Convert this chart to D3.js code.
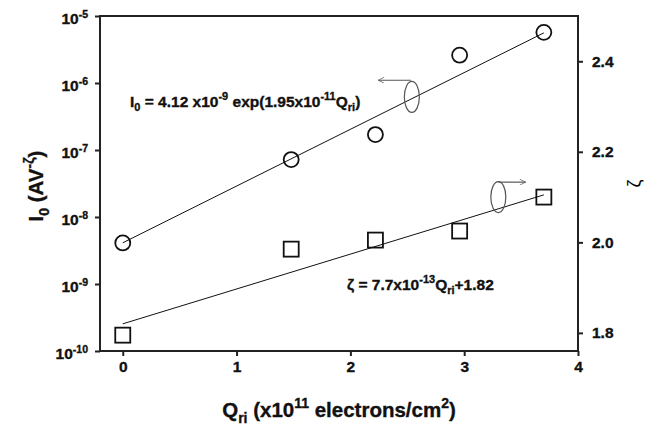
<!DOCTYPE html>
<html>
<head>
<meta charset="utf-8">
<script src="https://cdn.jsdelivr.net/npm/d3@7"></script>
<style>
  body { margin: 0; background: #fff; }
  text { font-family: "Liberation Sans", Arial, sans-serif; }
  .heavy { stroke: #111; stroke-width: 0.35px; }
</style>
</head>
<body>
<div id="chart"></div>
<script>
// Data
const qri  = [0, 1.48, 2.22, 2.96, 3.70];            // x10^11 electrons/cm^2
const i0   = [4.1e-9, 7.2e-8, 1.7e-7, 2.6e-6, 5.7e-6]; // A V^-zeta
const zeta = [1.795, 1.985, 2.005, 2.025, 2.10];

// Fit lines (from the equations printed on the chart)
const fitRange = [0, 3.70];
const i0Fit   = { a: 4.12e-9, b: 1.95 };   // I0 = a exp(b Q)
const zetaFit = { m: 0.077, c: 1.82 };     // zeta = m Q + c

const xTicks = [0, 1, 2, 3, 4];
const leftTicks = [1e-10, 1e-9, 1e-8, 1e-7, 1e-6, 1e-5];
const rightTicks = [1.8, 2.0, 2.2, 2.4];

// Dimensions
const margin = { top: 16, right: 72, bottom: 74, left: 100 };
const width  = 650 - margin.left - margin.right;
const height = 425 - margin.top - margin.bottom;

const svg = d3.select("#chart")
  .append("svg")
  .attr("width", 650)
  .attr("height", 425)
  .append("g")
  .attr("transform", `translate(${margin.left},${margin.top})`);

const x = d3.scaleLinear().domain([-0.2, 4]).range([0, width]);
const yL = d3.scaleLog().domain([1e-10, 1e-5]).range([height, 0]);
const yR = d3.scaleLinear().domain([1.76, 2.5]).range([height, 0]);

const axisColor = "#222";

// Frame (top border)
svg.append("line")
  .attr("x1", 0).attr("x2", width).attr("y1", 0).attr("y2", 0)
  .attr("stroke", axisColor).attr("stroke-width", 2);

// Axes
const xAxis = svg.append("g")
  .attr("transform", `translate(0,${height})`)
  .call(d3.axisBottom(x).tickValues(xTicks).tickFormat(d3.format("d")).tickSizeOuter(0).tickSize(5).tickPadding(5));

const leftAxis = svg.append("g")
  .call(d3.axisLeft(yL).tickValues(leftTicks).tickSizeOuter(0).tickSize(5).tickPadding(7));

const rightAxis = svg.append("g")
  .attr("transform", `translate(${width},0)`)
  .call(d3.axisRight(yR).tickValues(rightTicks).tickFormat(d3.format(".1f")).tickSizeOuter(0).tickSize(5).tickPadding(9));

[xAxis, leftAxis, rightAxis].forEach(g => {
  g.attr("font-family", null).attr("font-size", null);
  g.select(".domain").attr("stroke", axisColor).attr("stroke-width", 2);
  g.selectAll(".tick line").attr("stroke", axisColor).attr("stroke-width", 2);
  g.selectAll(".tick text")
    .attr("class", "heavy")
    .attr("fill", "#111")
    .style("font-size", "15.5px")
    .style("font-weight", "bold");
});

leftAxis.selectAll(".tick text")
  .text(null)
  .attr("dy", "0.5em")
  .each(function(d) {
    const t = d3.select(this);
    t.append("tspan").text("10");
    t.append("tspan")
      .attr("dy", -6)
      .style("font-size", "10.5px")
      .text(Math.round(Math.log10(d)));
  });

// extend domain lines to meet corners
xAxis.select(".domain").attr("d", `M-1,0H${width + 1}`);
leftAxis.select(".domain").attr("d", `M0,${height + 1}V-1`);
rightAxis.select(".domain").attr("d", `M0,${height + 1}V-1`);

// Fit lines
const fitI0 = fitRange.map(q => [q, i0Fit.a * Math.exp(i0Fit.b * q)]);
const fitZ  = fitRange.map(q => [q, zetaFit.m * q + zetaFit.c]);

svg.append("path")
  .datum(fitI0)
  .attr("fill", "none")
  .attr("stroke", "#111")
  .attr("stroke-width", 1)
  .attr("d", d3.line().x(d => x(d[0])).y(d => yL(d[1])));

svg.append("path")
  .datum(fitZ)
  .attr("fill", "none")
  .attr("stroke", "#111")
  .attr("stroke-width", 1)
  .attr("d", d3.line().x(d => x(d[0])).y(d => yR(d[1])));

// Markers
svg.selectAll("circle.i0")
  .data(qri.map((q, i) => [q, i0[i]]))
  .join("circle")
  .attr("class", "i0")
  .attr("cx", d => x(d[0]))
  .attr("cy", d => yL(d[1]))
  .attr("r", 7.5)
  .attr("fill", "none")
  .attr("stroke", "#111")
  .attr("stroke-width", 1.8);

const sq = 15;
svg.selectAll("rect.zeta")
  .data(qri.map((q, i) => [q, zeta[i]]))
  .join("rect")
  .attr("class", "zeta")
  .attr("x", d => x(d[0]) - sq / 2)
  .attr("y", d => yR(d[1]) - sq / 2)
  .attr("width", sq)
  .attr("height", sq)
  .attr("fill", "none")
  .attr("stroke", "#111")
  .attr("stroke-width", 1.8);

// Arrow marker
const defs = svg.append("defs");
defs.append("marker")
  .attr("id", "arrow")
  .attr("viewBox", "0 0 10 10")
  .attr("refX", 10).attr("refY", 5)
  .attr("markerWidth", 11).attr("markerHeight", 6)
  .attr("markerUnits", "userSpaceOnUse")
  .attr("orient", "auto")
  .append("path")
  .attr("d", "M0,0L10,5L0,10")
  .attr("fill", "none")
  .attr("stroke", "#555")
  .attr("stroke-width", 1.2);

// Annotation ellipses + arrows (data coordinates)
const i0Ell = { q: 2.54, v: 6.2e-7, tip: [2.245, 1.1e-6] };
const zEll  = { q: 3.30, v: 2.100,  tip: [3.54, 2.133] };

const ellRx = 7.5, ellRy = 15.5;
svg.append("ellipse")
  .attr("cx", x(i0Ell.q)).attr("cy", yL(i0Ell.v))
  .attr("rx", ellRx).attr("ry", ellRy)
  .attr("fill", "none").attr("stroke", "#555").attr("stroke-width", 1.2);
svg.append("line")
  .attr("x1", x(i0Ell.q) - 1).attr("y1", yL(i0Ell.tip[1]))
  .attr("x2", x(i0Ell.tip[0])).attr("y2", yL(i0Ell.tip[1]))
  .attr("stroke", "#555").attr("stroke-width", 1.2)
  .attr("marker-end", "url(#arrow)");

svg.append("ellipse")
  .attr("cx", x(zEll.q)).attr("cy", yR(zEll.v))
  .attr("rx", ellRx).attr("ry", ellRy)
  .attr("fill", "none").attr("stroke", "#555").attr("stroke-width", 1.2);
svg.append("line")
  .attr("x1", x(zEll.q)).attr("y1", yR(zEll.tip[1]))
  .attr("x2", x(zEll.tip[0])).attr("y2", yR(zEll.tip[1]))
  .attr("stroke", "#555").attr("stroke-width", 1.2)
  .attr("marker-end", "url(#arrow)");

// Rich text helper: sub / superscripts via dy
function richText(g, parts, size) {
  const small = Math.round(size * 0.7) + "px";
  parts.forEach(p => {
    const ts = g.append("tspan").text(p.t);
    if (p.sup) ts.attr("dy", -Math.round(size * 0.42)).style("font-size", small);
    if (p.sub) ts.attr("dy", Math.round(size * 0.28)).style("font-size", small);
    if (p.back) ts.attr("dy", p.back);
  });
}

const s1 = 15.5;
const eq1 = svg.append("text")
  .attr("class", "heavy")
  .attr("x", 30).attr("y", 91)
  .style("font-size", s1 + "px").style("font-weight", "bold").attr("fill", "#111");
richText(eq1, [
  { t: "I" }, { t: "0", sub: true }, { t: " = 4.12 x10", back: -4 }, { t: "-9", sup: true },
  { t: " exp(1.95x10", back: 7 }, { t: "-11", sup: true }, { t: "Q", back: 7 }, { t: "ri", sub: true }, { t: ")", back: -4 }
], s1);

const eq2 = svg.append("text")
  .attr("class", "heavy")
  .attr("x", 247).attr("y", 274)
  .style("font-size", s1 + "px").style("font-weight", "bold").attr("fill", "#111");
richText(eq2, [
  { t: "ζ = 7.7x10" }, { t: "-13", sup: true }, { t: "Q", back: 7 }, { t: "ri", sub: true }, { t: "+1.82", back: -4 }
], s1);

// Axis titles
const s2 = 20.5;
const xt = svg.append("text")
  .attr("class", "heavy")
  .attr("x", 239).attr("y", height + 66)
  .attr("text-anchor", "middle")
  .style("font-size", s2 + "px").style("font-weight", "bold").attr("fill", "#111");
richText(xt, [
  { t: "Q" }, { t: "ri", sub: true }, { t: " (x10", back: -6 }, { t: "11", sup: true },
  { t: " electrons/cm", back: 9 }, { t: "2", sup: true }, { t: ")", back: 9 }
], s2);

const yt = svg.append("text")
  .attr("class", "heavy")
  .attr("transform", `translate(${-57},${170}) rotate(-90)`)
  .attr("text-anchor", "middle")
  .style("font-size", s2 + "px").style("font-weight", "bold").attr("fill", "#111");
richText(yt, [
  { t: "I" }, { t: "0", sub: true }, { t: " (AV", back: -6 }, { t: "-ζ", sup: true }, { t: ")", back: 9 }
], s2);

svg.append("text")
  .attr("transform", `translate(${width + 62},${height / 2}) rotate(-90)`)
  .attr("text-anchor", "middle")
  .style("font-size", "18px").attr("fill", "#000")
  .text("ζ");
</script>
</body>
</html>
